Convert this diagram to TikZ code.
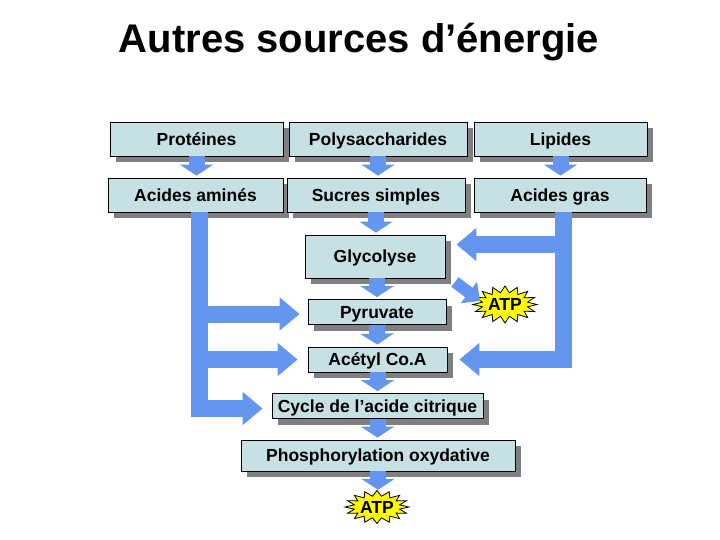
\documentclass[tikz,border=0pt]{standalone}
\usepackage{fontspec}
\setmainfont{Liberation Sans}
\usetikzlibrary{arrows.meta,shadows,calc}
\definecolor{boxfill}{RGB}{198,224,228}
\definecolor{shadowgray}{RGB}{128,128,128}
\definecolor{flowblue}{RGB}{100,150,240}
\definecolor{atpyellow}{RGB}{255,250,0}
\tikzset{
  box/.style={draw=black, line width=0.8bp, fill=boxfill, inner sep=0pt,
    font=\fontsize{17.5bp}{20bp}\selectfont\bfseries, text height=12.5bp, text depth=0bp,
    drop shadow={shadow xshift=6bp, shadow yshift=-6bp, fill=shadowgray, opacity=1}},
  flow/.style={draw=flowblue, line width=16bp, -{Triangle[width=33bp,length=11bp]}, shorten >=2bp},
  bigflow/.style={draw=flowblue, line width=17bp, line join=miter, -{Triangle[width=32bp,length=20bp]}},
  diagflow/.style={draw=flowblue, line width=12bp, -{Triangle[width=26bp,length=14bp]}},
  starburst/.style={draw=black, line width=0.8bp, fill=atpyellow},
  atptext/.style={font=\fontsize{17.5bp}{20bp}\selectfont\bfseries, inner sep=0pt, text height=12.5bp, text depth=0bp, minimum width=60bp, minimum height=34bp},
  titletext/.style={font=\fontsize{40bp}{44bp}\selectfont\bfseries, anchor=base, inner sep=0pt}
}
\begin{document}
\begin{tikzpicture}[x=1bp, y=-1bp]
\path[use as bounding box] (0,0) rectangle (720,540);

\node[titletext] (title) at (359,53) {Autres sources d’énergie};

% boxes
\node[box, minimum width=173bp, minimum height=34bp] (prot) at (196.5,139) {Protéines};
\node[box, minimum width=178bp, minimum height=34bp] (poly) at (378,139) {Polysaccharides};
\node[box, minimum width=173bp, minimum height=34bp] (lip) at (560.5,139) {Lipides};
\node[box, minimum width=175bp, minimum height=34bp] (acam) at (195.5,195) {Acides aminés};
\node[box, minimum width=178bp, minimum height=34bp] (sucres) at (376,195) {Sucres simples};
\node[box, minimum width=172bp, minimum height=34bp] (gras) at (560,195) {Acides gras};
\node[box, minimum width=140bp, minimum height=43bp] (glyc) at (375,256.5) {Glycolyse};
\node[box, minimum width=138bp, minimum height=25bp] (pyr) at (377,312) {Pyruvate};
\node[box, minimum width=139bp, minimum height=25bp] (acet) at (377.5,359.5) {Acétyl Co.A};
\node[box, minimum width=211bp, minimum height=25bp] (cyc) at (377.5,406) {Cycle de l’acide citrique};
\node[box, minimum width=274bp, minimum height=31bp] (phos) at (378,455.5) {Phosphorylation oxydative};

% ATP starbursts
\coordinate (atp1c) at (505,304.5);
\coordinate (atp2c) at (377,507);
\draw[starburst, shift={(atp1c)}] plot[samples=33, domain=0:32, variable=\t]
  ({cos(\t*360/32)*(32-9*mod(round(\t),2))}, {sin(\t*360/32)*(18.5-6.5*mod(round(\t),2))}) -- cycle;
\draw[starburst, shift={(atp2c)}] plot[samples=33, domain=0:32, variable=\t]
  ({cos(\t*360/32)*(32-9*mod(round(\t),2))}, {sin(\t*360/32)*(16.5-5.5*mod(round(\t),2))}) -- cycle;
\node[atptext] (atp1) at (atp1c) {ATP};
\node[atptext, minimum height=30bp] (atp2) at (atp2c) {ATP};

% short vertical arrows
\draw[flow] (prot.south) -- (prot.south |- acam.north);
\draw[flow] (poly.south) -- (poly.south |- sucres.north);
\draw[flow] (lip.south) -- (lip.south |- gras.north);
\draw[flow] (sucres.south) -- (sucres.south |- glyc.north);
\draw[flow] (glyc.south -| pyr.north) -- (pyr.north);
\draw[flow] (pyr.south) -- (acet.north);
\draw[flow] (acet.south) -- (acet.south |- cyc.north);
\draw[flow] (cyc.south) -- (cyc.south |- phos.north);
\draw[flow] (phos.south) -- (phos.south |- atp2.north);

% Glycolyse -> ATP
\coordinate (g2a) at (455,282);
\coordinate (a2tip) at (480,301);
\draw[diagflow] (g2a) -- (a2tip);

% left connector (acides amines)
\coordinate (ltop) at ($(acam.south)+(3.5,0)$);
\draw[bigflow, shorten >=9bp] (ltop) |- ($(cyc.west)+(0,2.5)$);
\draw[bigflow, shorten >=8bp] (ltop |- pyr.west) ++(0,2) -- ($(pyr.west)+(0,2)$);
\draw[bigflow, shorten >=10bp] (ltop |- acet.west) -- (acet.west);

% right connector (acides gras)
\coordinate (rtop) at ($(gras.south)+(3,0)$);
\draw[bigflow, shorten >=12bp] (rtop) |- (acet.east);
\draw[bigflow, shorten >=11bp] ($(rtop |- glyc.east)+(0,-12)$) -- ($(glyc.east)+(0,-12)$);
\end{tikzpicture}
\end{document}
